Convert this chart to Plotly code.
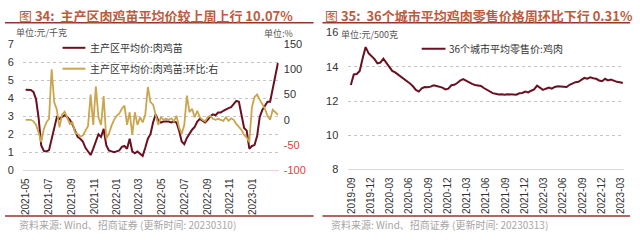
import plotly.graph_objects as go
import pandas as pd

W, H = 640, 240

# ---------------- Left chart data (weekly) ----------------
chick_dates = pd.date_range('2021-04-30', periods=98, freq='7D')
chick_price = [
    4.46, 4.46, 4.45, 4.35, 3.95, 2.90, 1.38, 1.08, 1.05, 1.12,
    1.70, 2.45, 2.95, 2.85, 2.95, 3.05, 2.95, 2.80, 2.55, 2.15,
    1.85, 1.75, 1.60, 1.25, 1.05, 0.85, 1.20, 1.55, 2.00, 1.85,
    2.30, 1.40, 1.10, 1.05, 1.00, 1.05, 1.10, 1.30, 1.35, 1.20,
    1.75, 1.05, 0.95, 1.05, 0.95, 0.80, 1.25, 1.75, 2.00, 2.65,
    3.10, 2.75, 2.65, 2.70, 2.70, 2.70, 2.65, 2.70, 2.65, 2.20,
    1.60, 1.45, 1.80, 2.05, 2.25, 2.40, 2.70, 2.85, 2.75, 2.65,
    2.80, 3.00, 3.10, 3.05, 3.20, 3.20, 3.30, 3.40, 3.45, 3.50,
    3.65, 3.85, 3.80, 3.15, 2.35, 2.20, 1.20, 1.35, 1.40, 1.90,
    2.95, 3.35, 3.60, 3.80, 3.80, 4.50, 5.40, 5.95,
]
chick_wow = [
    0, 0, 0, -3, -10, -25, -44, -18, -5, 2,
    100, 35, 20, -15, 10, 16, 5, -8, -5, -25,
    -28, -33, -31, -22, -12, 50, -10, 66, 5, -10,
    47, -37, -28, -12, 0, 8, 12, 22, 28, -10,
    15, -30, 15, -10, 5, -5, 10, 65, 35, 30,
    10, -10, 5, 0, 2, 0, 3, -3, 8, -15,
    -28, -10, 48, 15, 22, 5, 18, 5, 0, -3,
    5, 8, 2, 0, 2, 0, -2, 5, -2, 3,
    0, -8, -15, -20, -30, -35, -44, 25, 45, 50,
    40, 30, 22, 8, 0, 20, 15, 10,
]
left_ticks = pd.date_range('2021-05-01', '2023-01-01', freq='2MS')
right_axis_vals = [-100, -50, 0, 50, 100, 150]

# ---------------- Right chart data (bi-weekly readings) ----------------
retail_dates = pd.date_range('2019-08-30', periods=93, freq='14D')
retail_price = [
    12.93, 13.55, 13.58, 13.75, 14.50, 15.15, 14.80, 14.65, 14.45, 14.20,
    14.25, 14.48, 14.25, 14.00, 13.76, 13.67, 13.55, 13.42, 13.30, 13.15,
    13.03, 12.86, 12.65, 12.55, 12.74, 12.82, 12.80, 12.84, 12.92, 12.88,
    12.84, 12.78, 12.68, 12.72, 12.92, 12.95, 13.05, 13.20, 13.28, 13.18,
    13.12, 13.00, 12.94, 12.90, 12.88, 12.76, 12.65, 12.56, 12.46, 12.42,
    12.38, 12.40, 12.36, 12.40, 12.38, 12.40, 12.37, 12.45, 12.47, 12.55,
    12.50, 12.60, 12.68, 12.90, 12.78, 12.65, 12.72, 12.78, 12.72, 12.82,
    12.86, 12.85, 12.80, 12.82, 12.95, 13.02, 13.10, 13.12, 13.24, 13.35,
    13.30, 13.38, 13.33, 13.30, 13.20, 13.16, 13.30, 13.20, 13.25, 13.18,
    13.12, 13.10, 13.05,
]
right_ticks = pd.date_range('2019-09-01', '2023-03-01', freq='3MS')

# ---------------- helpers ----------------
def px(x):
    return x / W

def py(y):
    return 1 - y / H

def date_range_for(anchor_date, anchor_px, px_per_day, left_px, right_px):
    a = pd.Timestamp(anchor_date)
    start = a - pd.Timedelta(days=(anchor_px - left_px) / px_per_day)
    end = a + pd.Timedelta(days=(right_px - anchor_px) / px_per_day)
    return [start.strftime('%Y-%m-%d %H:%M'), end.strftime('%Y-%m-%d %H:%M')]

MAROON = '#6A1020'
GOLD = '#C9A54E'
TITLE_C = '#BC5B3C'
RULE_C = '#94352C'
GRID_C = '#C4C4C4'
NUM_FONT = 'Liberation Sans, Arial, Noto Sans CJK SC'
CJK_FONT = 'Noto Sans CJK SC, Liberation Sans'

fig = go.Figure()
fig.add_trace(go.Scatter(x=chick_dates, y=chick_price, mode='lines',
                         line=dict(color=MAROON, width=2), xaxis='x', yaxis='y',
                         name='主产区平均价:肉鸡苗'))
fig.add_trace(go.Scatter(x=chick_dates, y=chick_wow, mode='lines',
                         line=dict(color=GOLD, width=1.8), xaxis='x', yaxis='y2',
                         name='主产区平均价:肉鸡苗:环比:右'))
fig.add_trace(go.Scatter(x=retail_dates, y=retail_price, mode='lines',
                         line=dict(color=MAROON, width=2), xaxis='x2', yaxis='y3',
                         name='36个城市平均零售价:鸡肉'))

L_DOM = (20, 278)
R_DOM = (348, 626)

fig.update_layout(
    width=W, height=H, margin=dict(l=0, r=0, t=0, b=0),
    paper_bgcolor='white', plot_bgcolor='white', showlegend=False,
    font=dict(family=NUM_FONT, size=10, color='#333333'),
    xaxis=dict(domain=[px(L_DOM[0]), px(L_DOM[1])], anchor='y', type='date',
               range=date_range_for('2021-04-30', 22.8, 0.3745, *L_DOM),
               tickvals=list(left_ticks), tickformat='%Y-%m', tickangle=-90,
               showgrid=False, showline=True, linecolor='#D9D9D9', linewidth=1,
               ticks='', ticklabelstandoff=3, tickfont=dict(size=10, color='#333333')),
    yaxis=dict(domain=[py(173), py(40)], anchor='x', range=[0, 7], dtick=1,
               showgrid=True, gridcolor=GRID_C, griddash='dot', gridwidth=1,
               zeroline=False, ticks='', ticklabelstandoff=8,
               tickfont=dict(size=11, color='#333333')),
    yaxis2=dict(overlaying='y', side='right', anchor='x', range=[-100, 150],
                tickvals=right_axis_vals,
                ticktext=[('<span style="color:#E8383D">%d</span>' % v) if v < 0 else str(v)
                          for v in right_axis_vals],
                showgrid=False, zeroline=False, ticks='', ticklabelstandoff=4,
                tickfont=dict(size=11, color='#333333')),
    xaxis2=dict(domain=[px(R_DOM[0]), px(R_DOM[1])], anchor='y3', type='date',
                range=date_range_for('2019-09-01', 351, 0.2128, *R_DOM),
                tickvals=list(right_ticks), tickformat='%Y-%m', tickangle=-90,
                showgrid=False, showline=True, linecolor='#D9D9D9', linewidth=1,
                ticks='', ticklabelstandoff=3, tickfont=dict(size=10, color='#333333')),
    yaxis3=dict(domain=[py(172), py(28)], anchor='x2', range=[8, 16], dtick=2,
                showgrid=True, gridcolor=GRID_C, griddash='dot', gridwidth=1,
                zeroline=False, ticks='', ticklabelstandoff=9,
                tickfont=dict(size=11, color='#333333')),
)

shapes = []
# title rules and bottom rules
for x0, x1 in [(2, 313), (322, 632)]:
    shapes.append(dict(type='line', xref='paper', yref='paper', x0=px(x0), x1=px(x1),
                       y0=py(17.5), y1=py(17.5), line=dict(color=RULE_C, width=1.5)))
    shapes.append(dict(type='line', xref='paper', yref='paper', x0=px(x0), x1=px(x1),
                       y0=py(221), y1=py(221), line=dict(color=RULE_C, width=1.5)))
# legend samples
for x0, x1, y, c in [(60, 83, 44, MAROON), (60, 83, 66, GOLD), (422, 446, 45, MAROON)]:
    shapes.append(dict(type='line', xref='paper', yref='paper', x0=px(x0), x1=px(x1),
                       y0=py(y), y1=py(y), line=dict(color=c, width=2)))
fig.update_layout(shapes=shapes)

def ann(text, x, y, size, color, family=CJK_FONT, xanchor='left'):
    return dict(text=text, x=px(x), y=py(y), xref='paper', yref='paper',
                xanchor=xanchor, yanchor='middle', showarrow=False,
                font=dict(size=size, color=color, family=family))

annotations = [
    ann('图 <b>34:  主产区肉鸡苗平均价较上周上行 10.07%</b>', 14, 10, 13, TITLE_C),
    ann('图 <b>35:  36个城市平均鸡肉零售价格周环比下行 0.31%</b>', 323, 10, 13, TITLE_C),
    ann('单位:元/千克', 11, 28, 9, '#555555'),
    ann('单位:%', 261, 28.5, 9, '#555555'),
    ann('单位:元/500克', 339, 30, 9, '#555555'),
    ann('主产区平均价:肉鸡苗', 86, 44, 10, '#333333'),
    ann('主产区平均价:肉鸡苗:环比:右', 86, 66, 10, '#333333'),
    ann('36个城市平均零售价:鸡肉', 447, 45, 10, '#333333'),
    ann('资料来源: Wind、招商证券 (更新时间: 20230310)', 14, 230, 10, '#A6A6A6'),
    ann('资料来源: Wind、招商证券 (更新时间: 20230313)', 329, 230, 10, '#A6A6A6'),
]
fig.update_layout(annotations=annotations)

fig.write_html('out.html')
